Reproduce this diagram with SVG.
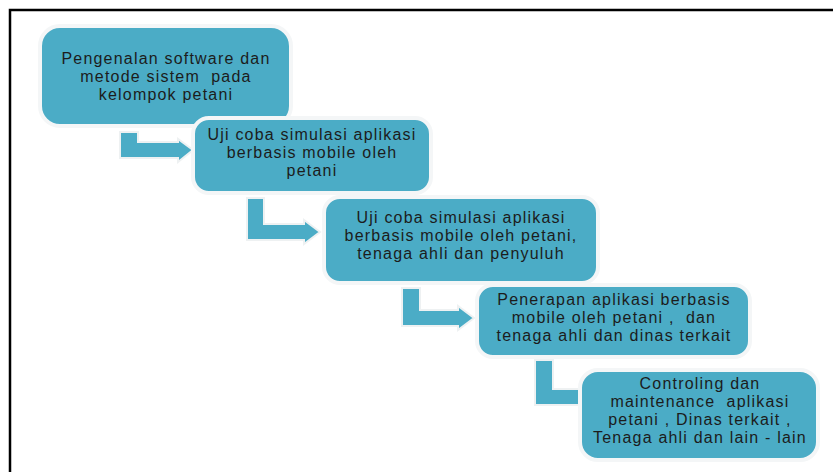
<svg xmlns="http://www.w3.org/2000/svg" width="833" height="472" viewBox="0 0 833 472">
<style>
.box{fill:#4BACC6;stroke:#f4f6f7;stroke-width:4}
.arr{fill:#4BACC6;stroke:#eef1f2;stroke-width:2}
text{font-family:"Liberation Sans",Arial,sans-serif;font-size:16px;letter-spacing:1.2px;fill:#1c1c1c;text-anchor:middle;white-space:pre}
</style>
<rect x="0" y="0" width="833" height="472" fill="#ffffff"/>
<path d="M10,475 V10 H836" fill="none" stroke="#000" stroke-width="2.5"/>
<g id="node1">
<rect class="box" x="40" y="26" width="251" height="100" rx="20"/>
<text x="166" y="64" xml:space="preserve">Pengenalan software dan</text>
<text x="166" y="82" xml:space="preserve">metode sistem  pada</text>
<text x="166" y="100" xml:space="preserve">kelompok petani</text>
</g>
<g id="connectors">
<path id="c1" class="arr" d="M120,132 H138 V142 H178 V139 L193,150 L178,162 V158 H120 Z"/>
</g>
<g id="node2">
<rect class="box" x="193" y="118" width="238" height="75" rx="16"/>
<text x="312" y="140" xml:space="preserve">Uji coba simulasi aplikasi</text>
<text x="312" y="158" xml:space="preserve">berbasis mobile oleh</text>
<text x="312" y="176" xml:space="preserve">petani</text>
</g>
<g id="connectors2">
<path id="c2" class="arr" d="M247,198 H264 V224 H304 V220 L320,232 L304,244 V240 H247 Z"/>
</g>
<g id="node3">
<rect class="box" x="324" y="197" width="274" height="86" rx="16"/>
<text x="461" y="223" xml:space="preserve">Uji coba simulasi aplikasi</text>
<text x="461" y="241" xml:space="preserve">berbasis mobile oleh petani,</text>
<text x="461" y="259" xml:space="preserve">tenaga ahli dan penyuluh</text>
</g>
<g id="connectors3">
<path id="c3" class="arr" d="M402,288 H420 V310 H458 V306 L474,318 L458,330 V326 H402 Z"/>
</g>
<g id="node4">
<rect class="box" x="477" y="285" width="273" height="72" rx="16"/>
<text x="614" y="305" xml:space="preserve">Penerapan aplikasi berbasis</text>
<text x="614" y="323" xml:space="preserve">mobile oleh petani ,  dan</text>
<text x="614" y="341" xml:space="preserve">tenaga ahli dan dinas terkait</text>
</g>
<g id="connectors4">
<path id="c4" class="arr" d="M535,360 H553 V389 H590 V405 H535 Z"/>
</g>
<g id="node5">
<rect class="box" x="580" y="370" width="238" height="90" rx="18"/>
<text x="700" y="389" xml:space="preserve">Controling dan</text>
<text x="700" y="407" xml:space="preserve">maintenance  aplikasi</text>
<text x="700" y="425" xml:space="preserve">petani , Dinas terkait ,</text>
<text x="700" y="443" xml:space="preserve">Tenaga ahli dan lain - lain</text>
</g>
</svg>
